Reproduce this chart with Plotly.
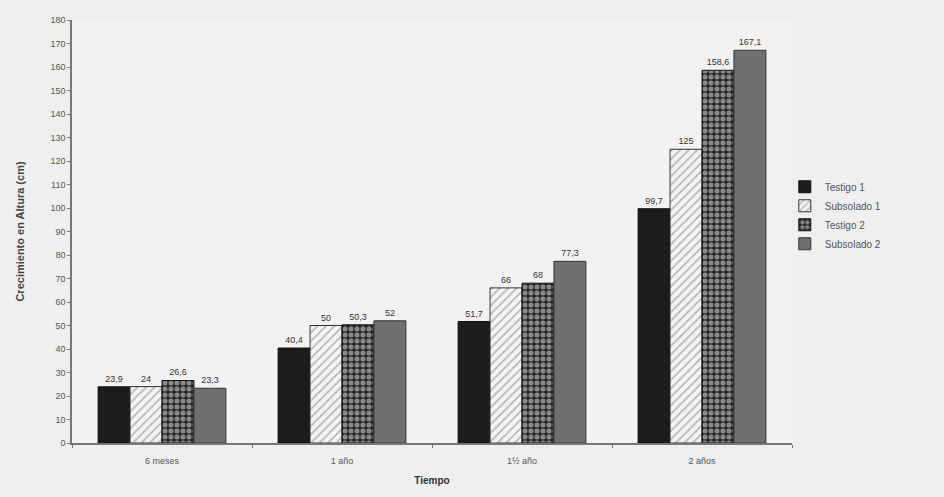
import plotly.graph_objects as go

categorias = ["6 meses", "1 año", "1½ año", "2 años"]
testigo_1 = [23.9, 40.4, 51.7, 99.7]
subsolado_1 = [24, 50, 66, 125]
testigo_2 = [26.6, 50.3, 68, 158.6]
subsolado_2 = [23.3, 52, 77.3, 167.1]
y_ticks = list(range(0, 181, 10))


def etiqueta(v):
    s = f"{v:g}"
    return s.replace(".", ",")


series = [
    ("Testigo 1", testigo_1, dict(color="#1c1c1c", line=dict(color="#111", width=1))),
    ("Subsolado 1", subsolado_1, dict(color="#f4f4f4",
                                       pattern=dict(shape="/", fgcolor="#7a7a7a", bgcolor="#f4f4f4", size=6, solidity=0.3),
                                       line=dict(color="#333", width=1))),
    ("Testigo 2", testigo_2, dict(color="#2a2a2a",
                                   pattern=dict(shape=".", fgcolor="#e8e8e8", bgcolor="#2a2a2a", size=6, solidity=0.55),
                                   line=dict(color="#111", width=1))),
    ("Subsolado 2", subsolado_2, dict(color="#707070", line=dict(color="#333", width=1))),
]

fig = go.Figure()
for nombre, valores, marcador in series:
    fig.add_trace(go.Bar(
        name=nombre, x=categorias, y=valores, marker=marcador,
        text=[etiqueta(v) for v in valores], textposition="outside",
        textfont=dict(size=9, color="#333"), cliponaxis=False,
    ))

fig.update_layout(
    width=944, height=497,
    margin=dict(l=72, r=152, t=20, b=54),
    paper_bgcolor="#efefef", plot_bgcolor="#f2f2f2",
    font=dict(family="Liberation Sans, Arial, sans-serif", size=9, color="#444"),
    barmode="group", bargap=0.29, bargroupgap=0,
    showlegend=True,
    legend=dict(x=0.99, y=0.64, xanchor="left", yanchor="top",
                font=dict(size=10, color="#555"), bgcolor="rgba(0,0,0,0)",
                itemwidth=30, tracegroupgap=0),
    xaxis=dict(showline=True, linecolor="#777", linewidth=1.5, ticks="outside",
               tickson="boundaries", ticklen=3, tickcolor="#777",
               ticklabelstandoff=8,
               tickfont=dict(size=9, color="#555"),
               title=dict(text="<b>Tiempo</b>", font=dict(size=10, color="#333"), standoff=12)),
    yaxis=dict(range=[0, 180], tickvals=y_ticks, showline=True, linecolor="#777",
               linewidth=1.5, ticks="outside", ticklen=3, tickcolor="#777",
               showgrid=False, zeroline=False, tickfont=dict(size=9, color="#555"),
               title=dict(text="<b>Crecimiento en Altura (cm)</b>", font=dict(size=11, color="#444"), standoff=24)),
)

fig.write_html("out.html")
